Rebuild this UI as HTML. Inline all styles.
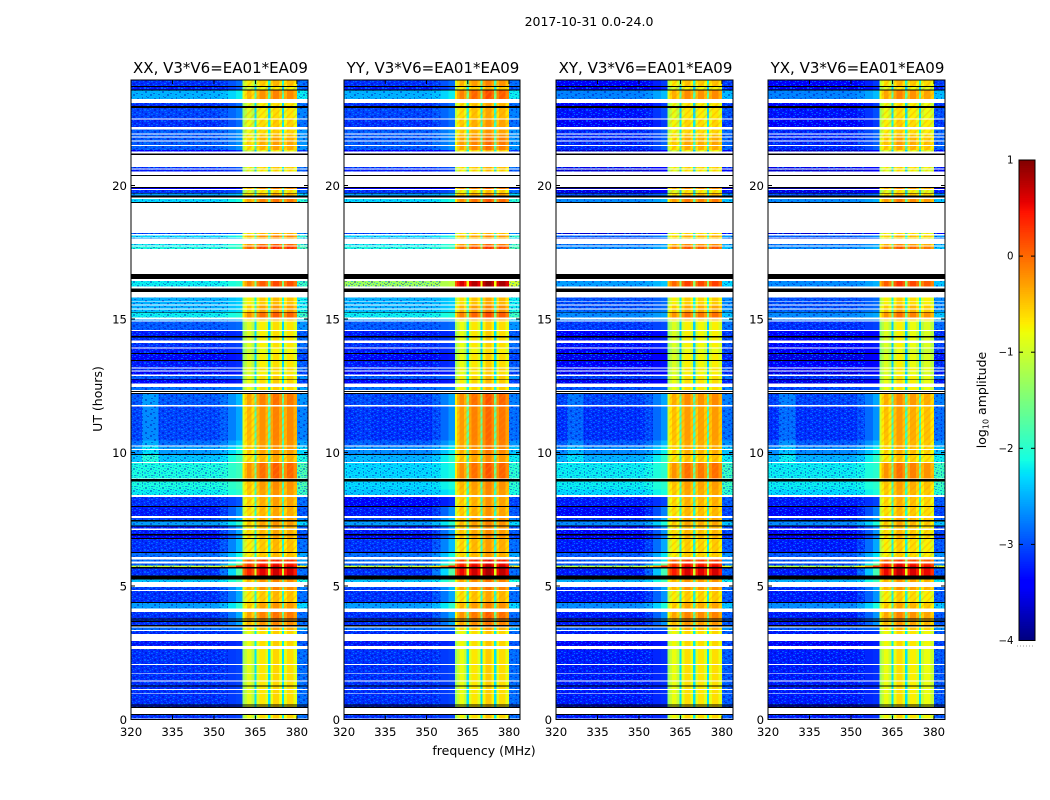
<!DOCTYPE html>
<html lang="en">
<head>
<meta charset="utf-8">
<title>2017-10-31 amplitude waterfall</title>
<style>
html,body{margin:0;padding:0;background:#fff;width:1050px;height:800px;overflow:hidden}
svg{display:block}
text{font-family:"DejaVu Sans","Liberation Sans",sans-serif;fill:#000}
</style>
</head>
<body>
<svg id="chart" xmlns="http://www.w3.org/2000/svg" width="1050" height="800" viewBox="0 0 1050 800">
  <defs>
    <pattern id="speckle" patternUnits="userSpaceOnUse" width="17" height="11">
      <rect x="1" y="0" width="2" height="1" fill="#0000b0" opacity=".4"/>
      <rect x="4" y="0" width="1" height="1" fill="#0090ff" opacity=".55"/>
      <rect x="6" y="1" width="1" height="2" fill="#0000b0" opacity=".4"/>
      <rect x="8" y="0" width="2" height="1" fill="#0090ff" opacity=".55"/>
      <rect x="11" y="0" width="2" height="1" fill="#00a0ff" opacity=".55"/>
      <rect x="15" y="2" width="2" height="1" fill="#0000b0" opacity=".4"/>
      <rect x="0" y="2" width="2" height="1" fill="#0090ff" opacity=".55"/>
      <rect x="3" y="3" width="2" height="1" fill="#00a0ff" opacity=".55"/>
      <rect x="9" y="3" width="2" height="2" fill="#0000b0" opacity=".4"/>
      <rect x="12" y="2" width="2" height="1" fill="#0090ff" opacity=".55"/>
      <rect x="13" y="4" width="1" height="1" fill="#00a0ff" opacity=".55"/>
      <rect x="15" y="4" width="2" height="1" fill="#0090ff" opacity=".55"/>
      <rect x="0" y="5" width="2" height="1" fill="#0000b0" opacity=".4"/>
      <rect x="7" y="4" width="1" height="1" fill="#0090ff" opacity=".55"/>
      <rect x="3" y="5" width="1" height="1" fill="#0090ff" opacity=".55"/>
      <rect x="5" y="6" width="2" height="1" fill="#0000b0" opacity=".4"/>
      <rect x="11" y="6" width="2" height="1" fill="#00a0ff" opacity=".55"/>
      <rect x="8" y="7" width="1" height="1" fill="#00a0ff" opacity=".55"/>
      <rect x="0" y="7" width="1" height="1" fill="#0090ff" opacity=".55"/>
      <rect x="14" y="6" width="2" height="2" fill="#0000b0" opacity=".4"/>
      <rect x="2" y="8" width="2" height="1" fill="#00a0ff" opacity=".55"/>
      <rect x="10" y="8" width="1" height="1" fill="#0000b0" opacity=".4"/>
      <rect x="13" y="8" width="1" height="1" fill="#0090ff" opacity=".55"/>
      <rect x="11" y="9" width="2" height="1" fill="#0000b0" opacity=".4"/>
      <rect x="6" y="9" width="1" height="2" fill="#0000b0" opacity=".4"/>
      <rect x="8" y="10" width="2" height="1" fill="#0090ff" opacity=".55"/>
      <rect x="16" y="9" width="1" height="1" fill="#00a0ff" opacity=".55"/>
      <rect x="1" y="10" width="2" height="1" fill="#0000b0" opacity=".4"/>
      <rect x="14" y="10" width="1" height="1" fill="#0090ff" opacity=".55"/>
    </pattern>
    <pattern id="hatch" patternUnits="userSpaceOnUse" width="5" height="5" patternTransform="rotate(-45)">
      <rect x="0" y="0" width="5" height="1.6" fill="#ff9000" opacity=".3"/>
    </pattern>
  </defs>
  <text x="589" y="26" font-size="12.5" text-anchor="middle">2017-10-31 0.0-24.0</text>
  <text transform="translate(102,399) rotate(-90)" font-size="12.5" text-anchor="middle">UT (hours)</text>
  <text x="484" y="755" font-size="12.5" text-anchor="middle">frequency (MHz)</text>
  <text transform="translate(986,400) rotate(-90)" font-size="12.5" text-anchor="middle">log<tspan font-size="8" dy="2.5">10</tspan><tspan dy="-2.5"> amplitude</tspan></text>
  <g id="panels"></g>
  <g id="colorbar"></g>
</svg>
<script>
const W = null, K = -9;

// --- Categories and ticks ---
const panelTitles = ['XX, V3*V6=EA01*EA09', 'YY, V3*V6=EA01*EA09', 'XY, V3*V6=EA01*EA09', 'YX, V3*V6=EA01*EA09'];
const freqTicks = [320, 335, 350, 365, 380];
const hourTicks = [0, 5, 10, 15, 20];
const colorTicks = [1, 0, -1, -2, -3, -4];

// --- Frequency channels (MHz) ---
const freqEdges = [320, 324, 327, 330, 345, 352, 355, 358, 360.3, 361, 362, 363.6, 364.6, 365.4, 366.4, 368.6, 369.6, 370.4, 371.4, 373.6, 374.6, 375.4, 376.4, 378.8, 380, 384];
const channelStreak = [0, 1, 1, 0, 0, 0, 0, 0];
const channelRamp = [0, 0, 0, 0, 0, .25, .6, 1];

// --- Time rows: start hour of each row, top to bottom ---
const rowEdges = [
23.95,23.73,23.69,23.60,23.56,23.24,23.09,22.98,22.90,22.51,
22.47,22.19,22.10,21.95,21.91,21.84,21.80,21.69,21.65,21.52,
21.48,21.33,21.27,21.20,21.14,20.69,20.64,20.60,20.52,20.39,
20.36,19.94,19.91,19.87,19.83,19.72,19.70,19.63,19.55,19.49,
19.38,19.34,18.23,18.18,18.13,18.06,18.02,17.99,17.81,17.76,
17.71,17.62,16.69,16.49,16.43,16.21,16.15,16.02,15.81,15.66,
15.63,15.55,15.50,15.40,15.36,15.26,15.24,15.06,14.98,14.94,
14.91,14.59,14.55,14.36,14.30,14.19,14.10,13.93,13.89,13.73,
13.69,13.46,13.43,13.19,13.14,13.08,13.04,12.93,12.87,12.76,
12.73,12.58,12.45,12.34,12.30,12.27,12.23,12.19,11.77,11.73,
10.45,10.27,10.23,10.13,10.09,9.94,9.91,9.64,9.60,9.03,
9.00,8.92,8.62,8.40,8.34,8.00,7.95,7.62,7.55,7.47,
7.41,7.26,7.22,7.16,7.10,6.95,6.90,6.80,6.76,6.28,
6.24,6.09,6.00,5.91,5.85,5.76,5.71,5.66,5.39,5.24,
5.15,4.97,4.85,4.81,4.41,4.37,4.15,4.03,3.79,3.75,
3.70,3.66,3.54,3.49,3.44,3.36,3.31,3.20,2.94,2.76,
2.64,2.08,2.04,1.75,1.72,1.47,1.43,1.28,1.24,1.14,
1.10,1.00,.97,.57,.52,.48,.43,.21,.17,.04
];

// log10 amplitude of the off-band background (XX), null = no data, K = black flagged row
const rowBackground = [
-3.15,K,-3.25,K,-2.5,W,-3.15,K,-3.05,W,
-3.15,W,-2.95,W,-2.95,W,-2.95,W,-2.95,W,
-2.95,-3.45,W,K,W,-3.15,W,-3.25,W,K,
W,K,-3.5,W,-3.15,K,-2.6,K,W,-2.3,
K,W,-3.05,W,-2.3,W,-2.6,W,-2.2,W,
-2.1,W,K,W,-2.2,W,K,W,-2.5,W,
-2.5,W,-2.5,W,-2.4,K,-2.2,W,-2.6,W,
-2.95,W,-3.25,K,-3.15,W,-3.15,W,-3.25,K,
-3.35,K,-3.25,W,-3.15,W,-3.35,W,-2.95,K,
-3.35,W,-2.85,W,K,W,K,-2.95,W,-3.05,
-2.85,W,-2.6,W,-2.6,K,-2.4,W,-2.1,W,
K,-2.1,-2.2,W,-3.15,K,-3.25,W,-3.05,K,
-2.6,K,-3.25,W,-3.25,K,-3.35,K,-3.15,K,
-2.85,W,-2.85,W,-2.95,-1,K,-3.15,K,-2.4,
W,-3.05,W,-3.15,K,-2.6,W,-3.15,K,-3.15,
K,-3.15,K,W,-2.85,W,-3.15,W,-3.25,W,
-3.15,W,-3.15,W,-3.15,W,-3.15,K,-3.15,W,
-3.15,W,-3.15,K,-3.25,K,W,K,-3.15
];

// log10 amplitude inside the bright 360-380 MHz bands (XX)
const rowBand = [
-.6,K,-.9,K,-.3,W,-.8,K,-.8,W,
-.7,W,-.7,W,-.6,W,-.5,W,-.45,W,
-.5,-.9,W,K,W,-.7,W,-.8,W,K,
W,K,-.3,W,-.8,K,-.5,K,W,-.2,
K,W,-.5,W,-.3,W,-.5,W,-.1,W,
.2,W,K,W,0,W,K,W,-.6,W,
-.6,W,-.4,W,-.4,K,-.1,W,-.5,W,
-.8,W,-.8,K,-.8,W,-.8,W,-.9,K,
-.8,K,-.8,W,-.7,W,-.8,W,-.7,K,
-.7,W,-.7,W,K,W,K,-.2,W,-.3,
-.35,W,-.4,W,-.4,K,-.5,W,-.1,W,
K,-.35,-.4,W,-.45,K,-.5,W,-.4,K,
-.4,K,-.5,W,-.5,K,-.5,K,-.6,K,
-.6,W,.2,W,.3,.5,K,.5,K,-.3,
W,-.3,W,-.6,K,-.4,W,-.2,K,-.3,
K,-.3,K,W,-.5,W,-.7,W,-.7,W,
-.75,W,-.75,W,-.75,W,-.75,K,-.75,W,
-.75,W,-.75,K,-.75,K,W,K,-.7
];

// --- Time blocks: level differences from XX for each polarisation ---
const blockEdges = [24, 21.15, 18.3, 16.7, 16.05, 15.0, 12.3, 9.62, 8.0, 7.2, 5.9, 5.3, 3.5, 0];
const xxBackgroundShift = [0,0,0,0,0,0,0,0,0,0,0,0,0];
const yyBackgroundShift = [0,0,0,.9,0,0,-.1,-.2,0,0,0,0,0];
const xyBackgroundShift = [-.25,-.4,-.6,-.4,-.5,-.15,-.1,-.1,-.1,-.1,-.1,-.1,-.1];
const yxBackgroundShift = [-.25,-.4,-.6,-.5,-.5,-.2,-.1,-.1,-.1,-.1,-.1,-.1,-.1];
const xxBandShift = [0,0,0,0,0,0,0,0,0,0,0,0,0];
const yyBandShift = [.25,.1,-.1,.7,.05,.05,.1,0,.05,.1,.1,.05,0];
const xyBandShift = [0,0,-.2,.1,-.05,-.05,-.1,-.05,-.05,-.05,0,-.05,0];
const yxBandShift = [.05,0,-.2,.15,-.05,-.05,-.1,-.05,-.05,-.05,.1,-.05,0];
const blockRamp = [.3,.2,.2,.2,.15,.1,.5,.2,.6,.7,1.4,.6,.1];
const blockStreak = [0,0,0,0,0,0,1,0,0,0,0,0,0];
const blockHatch = [1,1,1,0,0,0,1,1,1,1,0,1,0];
const panelStreak = [.35,.05,.25,.3];

// --- Per-band level offsets (four sub-bands) ---
const xxBandProfile = [-.2,0,.1,.05];
const yyBandProfile = [-.15,0,.15,.05];
const xyBandProfile = [-.15,.05,0,.05];
const yxBandProfile = [-.15,.05,-.05,-.15];

// --- Layout ---
const panelLeft = [131, 344, 556, 768];
const panelRight = [308, 520, 733, 945];
const plotTop = 80, plotBottom = 719.5, pxPerHour = 26.7;
const freqMin = 320, freqMax = 384;
const colorMin = -4, colorMax = 1, barTop = 160, barBottom = 640.5, barLeft = 1019, barRight = 1035;

const backgroundShifts = [xxBackgroundShift, yyBackgroundShift, xyBackgroundShift, yxBackgroundShift];
const bandShifts = [xxBandShift, yyBandShift, xyBandShift, yxBandShift];
const bandProfiles = [xxBandProfile, yyBandProfile, xyBandProfile, yxBandProfile];

const NS = 'http://www.w3.org/2000/svg';
function make(parent, tag, attrs, text) {
  const el = document.createElementNS(NS, tag);
  for (const k in attrs) el.setAttribute(k, attrs[k]);
  if (text !== undefined) el.textContent = text;
  parent.appendChild(el);
  return el;
}
function yScale(hour) { return plotBottom - hour * pxPerHour; }
function xScale(p, f) { return panelLeft[p] + (f - freqMin) * (panelRight[p] - panelLeft[p]) / (freqMax - freqMin); }
function lerp(stops, t) {
  for (let i = 1; i < stops.length; i++) {
    if (t <= stops[i][0]) {
      const a = stops[i - 1], b = stops[i];
      return a[1] + (b[1] - a[1]) * (t - a[0]) / (b[0] - a[0]);
    }
  }
  return stops[stops.length - 1][1];
}
const jetR = [[0,0],[.35,0],[.66,1],[.89,1],[1,.5]];
const jetG = [[0,0],[.125,0],[.375,1],[.64,1],[.91,0],[1,0]];
const jetB = [[0,.5],[.11,1],[.34,1],[.65,0],[1,0]];
function color(v) {
  if (v < -8) return '#000';
  const t = Math.max(0, Math.min(1, (v - colorMin) / (colorMax - colorMin)));
  const c = [jetR, jetG, jetB].map(s => Math.round(255 * lerp(s, t)));
  return 'rgb(' + c.join(',') + ')';
}
function blockOf(h) {
  for (let i = 0; i < blockEdges.length - 1; i++) if (h > blockEdges[i + 1]) return i;
  return blockEdges.length - 2;
}
function cellValue(p, row, col) {
  const blk = blockOf((rowEdges[row] + rowEdges[row + 1]) / 2);
  const bg = rowBackground[row] + backgroundShifts[p][blk];
  const band = rowBand[row] + bandShifts[p][blk];
  if (col < 8) return bg + channelRamp[col] * blockRamp[blk] + channelStreak[col] * blockStreak[blk] * panelStreak[p];
  if (col === 8) return band - .6;
  if (col >= 24) return bg + .3;
  const k = Math.floor((col - 9) / 4), m = (col - 9) % 4;
  if (m === 3) return band - 1.5;
  if (m === 1) return band + bandProfiles[p][k] + .08;
  return band + bandProfiles[p][k] - .15;
}

const panelsG = document.getElementById('panels');
panelTitles.forEach(function (title, p) {
  const g = make(panelsG, 'g', {});
  
  
  const L = panelLeft[p], R = panelRight[p];

  const heat = make(g, 'g', { 'shape-rendering': 'crispEdges' });
  
  
  rowBackground.forEach(function (bg, row) {
    if (bg === W) return;
    const y0 = yScale(rowEdges[row]), y1 = yScale(rowEdges[row + 1]);
    if (bg === K) {
      const blk = make(heat, 'rect', { x: L, y: y0, width: R - L, height: y1 - y0, fill: '#000' });
      
      
      return;
    }
    for (let c = 0; c < freqEdges.length - 1; c++) {
      const x0 = xScale(p, freqEdges[c]), x1 = xScale(p, freqEdges[c + 1]);
      const cell = make(heat, 'rect', { x: x0, y: y0, width: x1 - x0, height: y1 - y0, fill: color(cellValue(p, row, c)) });
      
      
    }
    const sp = make(heat, 'rect', { x: L, y: y0, width: xScale(p, 355) - L, height: y1 - y0, fill: 'url(#speckle)' });
    
    
    const sp2 = make(heat, 'rect', { x: xScale(p, 380), y: y0, width: R - xScale(p, 380), height: y1 - y0, fill: 'url(#speckle)' });
    
    
    if (blockHatch[blockOf((rowEdges[row] + rowEdges[row + 1]) / 2)]) {
      const h = make(heat, 'rect', { x: xScale(p, 361), y: y0, width: xScale(p, 380) - xScale(p, 361), height: y1 - y0, fill: 'url(#hatch)' });
      
      
    }
  });

  const frame = make(g, 'rect', { x: L, y: plotTop, width: R - L, height: plotBottom - plotTop, fill: 'none', stroke: '#000', 'stroke-width': 1 });
  
  

  const t = make(g, 'text', { x: (L + R) / 2 + 1, y: 73, 'font-size': 15, 'text-anchor': 'middle' }, title);
  
  

  freqTicks.forEach(function (f) {
    const x = xScale(p, f);
    const a = make(g, 'line', { x1: x, x2: x, y1: plotBottom, y2: plotBottom - 4, stroke: '#000', 'stroke-width': 1 });
    
    
    const b = make(g, 'line', { x1: x, x2: x, y1: plotTop, y2: plotTop + 4, stroke: '#000', 'stroke-width': 1 });
    
    
    const lab = make(g, 'text', { x: x, y: 736, 'font-size': 11.7, 'text-anchor': 'middle' }, String(f));
    
    
  });
  hourTicks.forEach(function (h) {
    const y = yScale(h);
    const a = make(g, 'line', { x1: L, x2: L + 4, y1: y, y2: y, stroke: '#000', 'stroke-width': 1 });
    
    
    const b = make(g, 'line', { x1: R, x2: R - 4, y1: y, y2: y, stroke: '#000', 'stroke-width': 1 });
    
    
    const lab = make(g, 'text', { x: L - 4, y: y + 4.3, 'font-size': 11.7, 'text-anchor': 'end' }, String(h));
    
    
  });
});

// Colorbar
const cb = document.getElementById('colorbar');
function colorY(v) { return barBottom - (v - colorMin) * (barBottom - barTop) / (colorMax - colorMin); }
const cbCells = make(cb, 'g', { 'shape-rendering': 'crispEdges' });


for (let i = 0; i < 256; i++) {
  const v0 = colorMin + (colorMax - colorMin) * i / 256, v1 = colorMin + (colorMax - colorMin) * (i + 1) / 256;
  const r = make(cbCells, 'rect', { x: barLeft, y: colorY(v1), width: barRight - barLeft, height: colorY(v0) - colorY(v1) + .5, fill: color(v0) });
  
  
}
const cbFrame = make(cb, 'rect', { x: barLeft, y: barTop, width: barRight - barLeft, height: barBottom - barTop, fill: 'none', stroke: '#000', 'stroke-width': 1 });


colorTicks.forEach(function (v) {
  const y = colorY(v);
  const a = make(cb, 'line', { x1: barLeft, x2: barLeft + 4, y1: y, y2: y, stroke: '#000' });
  
  
  const b = make(cb, 'line', { x1: barRight, x2: barRight - 4, y1: y, y2: y, stroke: '#000' });
  
  
  const lab = make(cb, 'text', { x: 1013.5, y: y + 3.5, 'font-size': 10.2, 'text-anchor': 'end' }, String(v).replace('-', '\u2212'));
  
  
});
const cbDots = make(cb, 'line', { x1: 1017, x2: 1035, y1: 646, y2: 646, stroke: '#999', 'stroke-width': 1, 'stroke-dasharray': '1 2' });


</script>
</body>
</html>
